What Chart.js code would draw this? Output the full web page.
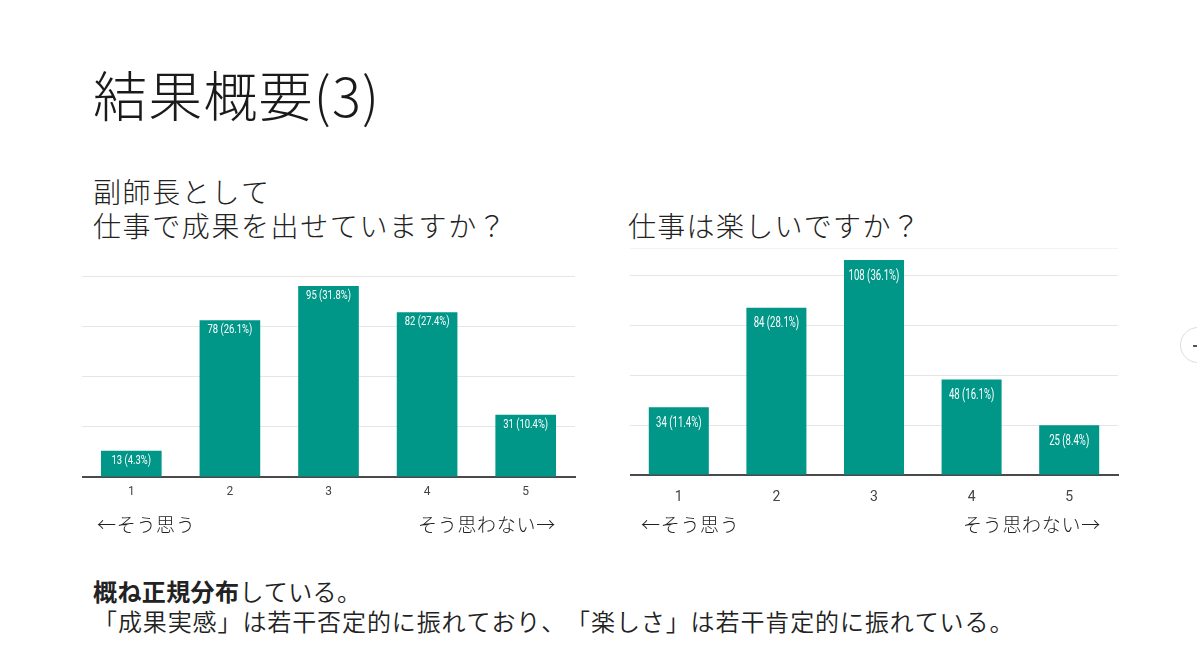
<!DOCTYPE html>
<html lang="ja">
<head>
<meta charset="utf-8">
<script src="https://cdn.jsdelivr.net/npm/chart.js@4/dist/chart.umd.min.js"></script>
<style>
  html, body { margin: 0; padding: 0; background: #fff; }
  body { width: 1197px; height: 672px; position: relative; overflow: hidden;
         font-family: "Noto Sans CJK JP", "Noto Sans", sans-serif; color: #222;
         text-spacing-trim: space-all; font-kerning: none; }
  .t { position: absolute; white-space: nowrap; }
  #title { left: 93px; top: 67px; font-size: 54px; line-height: 1; font-weight: 300; color: #1a1a1a; letter-spacing: 1.2px; }
  #sub1 { left: 93px; top: 174px; font-size: 28px; line-height: 34px; font-weight: 300; letter-spacing: 1.6px; }
  #sub2 { left: 628px; top: 208px; font-size: 28px; line-height: 34px; font-weight: 300; letter-spacing: 1.3px; }
  .arrow { font-size: 19px; line-height: 1; top: 514px; font-weight: 300; letter-spacing: 0.7px; }
  #bottom { left: 93px; top: 576px; font-size: 24px; line-height: 30px; font-weight: 350; letter-spacing: 0.4px; }
  #bottom b { font-weight: 700; }
  #bottom .l2 { letter-spacing: 0.9px; }
  canvas { position: absolute; }
  #c1 { left: 82px; top: 256px; }
  #c2 { left: 630px; top: 228px; }
  #nav { position: absolute; left: 1180px; top: 327px; width: 34px; height: 34px; border-radius: 50%;
         border: 1px solid #ddd; background: #fff; }
  #nav::after { content: ""; position: absolute; left: 12px; top: 17px; width: 6px; height: 1.5px; background: #555; }
</style>
</head>
<body>
<div class="t" id="title">結果概要(3)</div>
<div class="t" id="sub1">副師長として<br>仕事で成果を出せていますか？</div>
<div class="t" id="sub2">仕事は楽しいですか？</div>
<canvas id="c1" width="494" height="256" style="width:494px;height:256px"></canvas>
<canvas id="c2" width="489" height="283" style="width:489px;height:283px"></canvas>
<div class="t arrow" style="left:97px">←そう思う</div>
<div class="t arrow" style="left:418px">そう思わない→</div>
<div class="t arrow" style="left:641px">←そう思う</div>
<div class="t arrow" style="left:963px">そう思わない→</div>
<div class="t" id="bottom"><b>概ね正規分布</b>している。<br><span class="l2">「成果実感」は若干否定的に振れており、「楽しさ」は若干肯定的に振れている。</span></div>
<div id="nav"></div>
<script>
const categories = ['1', '2', '3', '4', '5'];
const achievementCounts = [13, 78, 95, 82, 31];
const achievementPct = [4.3, 26.1, 31.8, 27.4, 10.4];
const enjoymentCounts = [34, 84, 108, 48, 25];
const enjoymentPct = [11.4, 28.1, 36.1, 16.1, 8.4];
const leftTicks = [0, 25, 50, 75, 100];
const rightTicks = [0, 25, 50, 75, 100];

const TEAL = '#009688';

function labelPlugin(pcts, fontSize, sx, offset) {
  return {
    id: 'barLabels',
    afterDatasetsDraw(chart) {
      const ctx = chart.ctx;
      const meta = chart.getDatasetMeta(0);
      const data = chart.data.datasets[0].data;
      ctx.save();
      ctx.fillStyle = '#ffffff';
      ctx.font = fontSize + 'px Roboto, "Liberation Sans", sans-serif';
      ctx.textAlign = 'center';
      ctx.textBaseline = 'middle';
      meta.data.forEach((bar, i) => {
        const txt = data[i] + ' (' + pcts[i].toFixed(1) + '%)';
        ctx.save();
        ctx.translate(bar.x, bar.y + offset);
        ctx.scale(sx, 1);
        ctx.fillText(txt, 0, 0);
        ctx.restore();
      });
      ctx.restore();
    }
  };
}

function makeChart(id, counts, pcts, maxV, tickVals, opts) {
  return new Chart(document.getElementById(id), {
    type: 'bar',
    data: {
      labels: categories,
      datasets: [{ data: counts, backgroundColor: TEAL, borderWidth: 0,
                   categoryPercentage: 1, barPercentage: 0.615 }]
    },
    options: {
      responsive: false, animation: false, devicePixelRatio: 1,
      layout: { padding: { top: opts.padTop, left: 0, right: 1, bottom: 0 } },
      plugins: { legend: { display: false }, tooltip: { enabled: false } },
      scales: {
        x: {
          grid: { display: false, drawTicks: false },
          border: { display: true, color: '#4a4a4a', width: 2 },
          ticks: { color: '#444', padding: opts.tickPad,
                   font: { family: 'Roboto', size: opts.tickSize } },
          afterFit: s => { s.height = opts.axisH; }
        },
        y: {
          min: 0, max: maxV,
          afterBuildTicks: s => {
            const t = tickVals.map(v => ({ value: v }));
            if (maxV > tickVals[tickVals.length - 1]) t.push({ value: maxV });
            s.ticks = t;
          },
          ticks: { display: false },
          grid: { drawTicks: false, lineWidth: 1,
                  color: c => c.tick && c.tick.value === 0 ? 'rgba(0,0,0,0)'
                           : (c.tick && c.tick.value === maxV && maxV !== 100 ? '#f3f3f3' : '#e6e6e6') },
          border: { display: false },
          afterFit: s => { s.width = 0; }
        }
      }
    },
    plugins: [labelPlugin(pcts, opts.labelSize, opts.labelSx, opts.labelOff)]
  });
}

makeChart('c1', achievementCounts, achievementPct, 100, leftTicks,
  { padTop: 20, axisH: 35, tickPad: 8, tickSize: 12, labelSize: 13.5, labelSx: 0.7, labelOff: 9.5 });
makeChart('c2', enjoymentCounts, enjoymentPct, 114, rightTicks,
  { padTop: 20, axisH: 36, tickPad: 14, tickSize: 14, labelSize: 14.5, labelSx: 0.66, labelOff: 16 });
</script>
</body>
</html>
